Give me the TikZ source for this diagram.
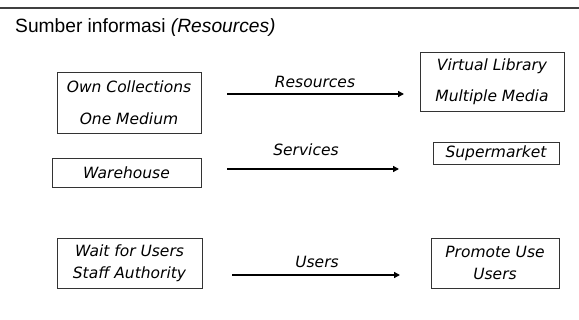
\documentclass[tikz,border=0pt]{standalone}
\usepackage{fontspec}
\setmainfont{DejaVu Sans}
\newfontfamily\titlefont{Liberation Sans}
\usetikzlibrary{arrows.meta}
\tikzset{
  box/.style={draw=black!80, line width=0.9pt, inner sep=0pt, align=center,
    font=\fontsize{15.5}{22}\selectfont\itshape},
  lbl/.style={font=\fontsize{15.5}{18}\selectfont\itshape, inner sep=0pt},
  arr/.style={line width=1.4pt, -{Triangle[length=6pt,width=6pt]}},
}
\begin{document}
\begin{tikzpicture}[x=1pt,y=1pt]
\useasboundingbox (0,0) rectangle (579,-320);
\coordinate (tl) at (0,-8);
\coordinate (tr) at (579,-8);
\draw[line width=1.3pt, black!75] (tl) -- (tr);
\node[anchor=base west, inner sep=0pt, font=\titlefont\fontsize{19.2}{22}\selectfont] (title) at (15,-32.5) {Sumber informasi \textit{(Resources)}};

\node[box, minimum width=144pt, minimum height=61pt] (b1) at (129,-102.5) {Own Collections\\[10pt]One Medium};
\node[box, minimum width=149pt, minimum height=29pt] (b2) at (126.5,-172.5) {Warehouse};
\node[box, minimum width=144pt, minimum height=59pt] (b3) at (492,-81.5) {Virtual Library\\[9pt]Multiple Media};
\node[box, minimum width=126pt, minimum height=22pt] (b4) at (496,-153) {Supermarket};
\node[box, minimum width=145pt, minimum height=50pt] (b5) at (129.5,-263) {Wait for Users\\Staff Authority};
\node[box, minimum width=128pt, minimum height=50pt] (b6) at (495,-263) {Promote Use\\Users};

\coordinate (a1s) at (227,-94);
\coordinate (a1e) at (404,-94);
\coordinate (a2s) at (227,-169);
\coordinate (a2e) at (399,-169);
\coordinate (a3s) at (232,-275);
\coordinate (a3e) at (400,-275);
\draw[arr] (a1s) -- (a1e);
\draw[arr] (a2s) -- (a2e);
\draw[arr] (a3s) -- (a3e);
\node[lbl] (l1) at (315,-82) {Resources};
\node[lbl] (l2) at (306,-150) {Services};
\node[lbl] (l3) at (317,-262) {Users};
\end{tikzpicture}
\end{document}
